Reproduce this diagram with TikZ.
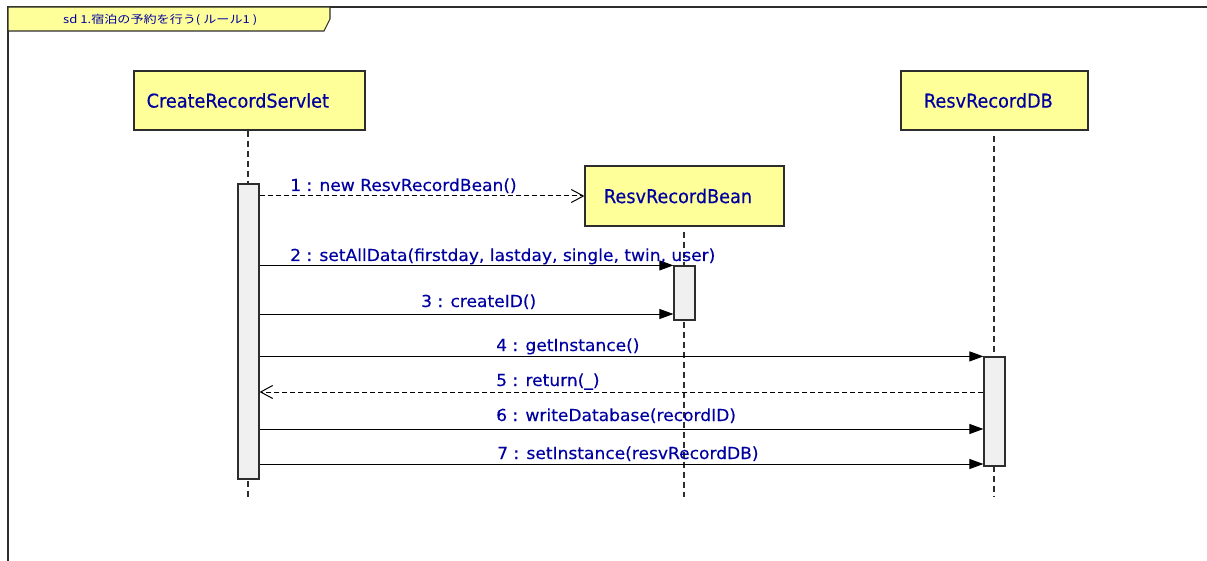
\documentclass[tikz,border=0pt]{standalone}
\usepackage{fontspec}
\setmainfont{DejaVu Sans}
\newfontfamily\boxfont[FakeStretch=0.93,FakeBold=0.3]{DejaVu Sans}
\newfontfamily\labelfont[FakeStretch=1.035,FakeBold=0.3]{DejaVu Sans}
\newfontfamily\titlefont[FakeStretch=1.19]{Noto Sans CJK JP}
\usetikzlibrary{arrows.meta}
\definecolor{umlyellow}{RGB}{255,255,153}
\definecolor{msgblue}{RGB}{0,0,160}
\definecolor{actgray}{RGB}{240,240,240}
\definecolor{edgegray}{RGB}{45,45,45}

\begin{document}
\begin{tikzpicture}[x=1pt,y=-1pt,
  objbox/.style={draw=edgegray, line width=1.3pt, fill=umlyellow, text=msgblue,
    minimum height=59pt, inner ysep=0pt, align=left,
    font=\fontsize{19}{20}\boxfont},
  actbar/.style={draw=edgegray, line width=1.2pt, fill=actgray, inner sep=0pt,
    minimum width=21pt},
  lifeline/.style={draw=edgegray, line width=1.1pt, dash pattern=on 6pt off 4pt},
  callmsg/.style={draw=black, line width=1pt,
    -{Triangle[length=14pt,width=10pt]}},
  replymsg/.style={draw=black, line width=1pt, dash pattern=on 5pt off 3pt,
    -{Straight Barb[length=12pt,width=13pt,line width=1pt]}},
  msglabel/.style={anchor=base west, inner sep=0pt, text=msgblue,
    font=\fontsize{16.5}{17}\labelfont},
]
\useasboundingbox (0,0) rectangle (1207,561);

% frame of the interaction
\draw[draw=edgegray, line width=1.3pt] (8,561) -- (8,7) -- (1207,7);
\draw[draw=edgegray, line width=1.1pt, fill=umlyellow]
  (8,7) -- (330,7) -- (330,19) -- (324,31) -- (8,31) -- cycle;
\node[anchor=base west, inner sep=0pt, text=msgblue, font=\fontsize{11}{12}\titlefont]
  (title) at (63,24) {sd 1.宿泊の予約を行う( ルール1 )};

% participants
\node[objbox, inner xsep=12.7pt, text width=205.6pt] (servlet) at (249.5,100.5) {CreateRecordServlet};
\node[objbox, inner xsep=23pt, text width=141pt] (db) at (994.5,100.5) {ResvRecordDB};
\node[objbox, inner xsep=19pt, text width=161pt, minimum height=60pt] (bean) at (684.5,196) {ResvRecordBean};

% lifelines
\coordinate (servletEnd) at (248,497);
\coordinate (beanEnd) at (684,497);
\coordinate (dbEnd) at (994,497);
\draw[lifeline] (servlet.south -| servletEnd) -- (servletEnd);
\draw[lifeline] ([yshift=-5pt]bean.south -| beanEnd) -- (beanEnd);
\draw[lifeline] ([yshift=-5pt]db.south -| dbEnd) -- (dbEnd);

% activations
\node[actbar, minimum height=295pt] (actS) at (248.5,331.5) {};
\node[actbar, minimum height=54pt] (actB) at (684.5,293) {};
\node[actbar, minimum height=109pt] (actD) at (994.5,411.5) {};

% messages
\draw[replymsg] (actS.east |- bean.west) -- (bean.west);
\node[msglabel] (m1) at (290,191) {1 : new ResvRecordBean()};

\draw[callmsg] (actS.east |- actB.north west) -- (actB.north west);
\node[msglabel] (m2) at (290,261) {2 : setAllData(firstday, lastday, single, twin, user)};

\draw[callmsg] (actS.east |- 0,314) -- (actB.west |- 0,314);
\node[msglabel] (m3) at (421,307) {3 : createID()};

\draw[callmsg] (actS.east |- actD.north west) -- (actD.north west);
\node[msglabel] (m4) at (496,351) {4 : getInstance()};

\draw[replymsg] (actD.west |- 0,392) -- (actS.east |- 0,392);
\node[msglabel] (m5) at (496,386) {5 : return(\_)};

\draw[callmsg] (actS.east |- 0,429) -- (actD.west |- 0,429);
\node[msglabel] (m6) at (496,421) {6 : writeDatabase(recordID)};

\draw[callmsg] (actS.east |- 0,464) -- (actD.west |- 0,464);
\node[msglabel] (m7) at (497,459) {7 : setInstance(resvRecordDB)};
\end{tikzpicture}
\end{document}
